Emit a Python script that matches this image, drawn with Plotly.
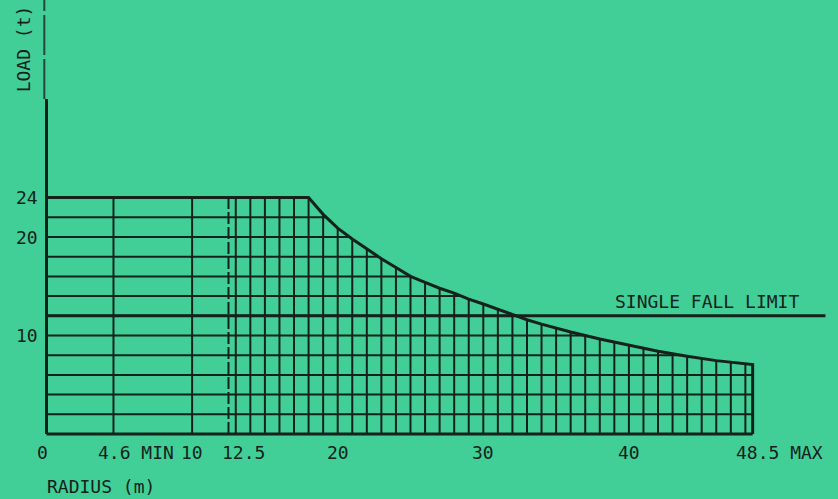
import plotly.graph_objects as go

# ---- data ----
radius_curve = [0, 18, 19, 20, 21, 22, 23, 24, 25, 26, 27, 28, 29, 30, 31, 32, 33, 34, 35, 36, 38, 40, 42, 44, 46, 48.5]
load_curve = [24, 24, 22.3, 20.9, 19.8, 18.8, 17.8, 16.9, 16.0, 15.4, 14.8, 14.3, 13.7, 13.2, 12.65, 12.1, 11.6, 11.15, 10.75, 10.35, 9.65, 9.0, 8.4, 7.9, 7.45, 7.05]
single_fall_limit = 12
single_fall_end = 53.5
min_radius = 4.6
max_radius = 48.5
dashed_radius = 12.5
grid_radii = [4.6, 10] + list(range(13, 49))
grid_loads = list(range(2, 24, 2))
x_tick_vals = [0, 4.6, 10, 12.5, 20, 30, 40, 48.5]
x_tick_text = ["0", "4.6 MIN", "10", "12.5", "20", "30", "40", "48.5 MAX"]
y_tick_vals = [24, 20, 10]
y_tick_text = ["24", "20", "10"]
y_top = 44.5

BG = "#41cf97"
INK = "#15221c"
FONT = "DejaVu Sans Mono"

fig = go.Figure()

# grid lines (full), later masked above the curve
gx, gy = [], []
for r in grid_radii:
    gx += [r, r, None]
    gy += [0, 24, None]
for h in grid_loads:
    gx += [0, max_radius, None]
    gy += [h, h, None]
fig.add_trace(go.Scatter(x=gx, y=gy, mode="lines", line=dict(color=INK, width=2), hoverinfo="skip"))

# dashed line at 12.5
fig.add_trace(go.Scatter(x=[dashed_radius, dashed_radius], y=[0, 24], mode="lines",
                         line=dict(color=INK, width=2, dash="12px,3px"), hoverinfo="skip"))

# mask above the curve
mx = [r for r in radius_curve if r >= 18]
my = [l for r, l in zip(radius_curve, load_curve) if r >= 18]
mx = mx + [max_radius + 0.3, max_radius + 0.3, 18]
my = my + [my[-1], 25, 25]
fig.add_trace(go.Scatter(x=mx, y=my, mode="lines", fill="toself", fillcolor=BG,
                         line=dict(width=0, color=BG), hoverinfo="skip"))

# capacity curve and right edge
fig.add_trace(go.Scatter(x=radius_curve + [max_radius], y=load_curve + [0], mode="lines",
                         line=dict(color=INK, width=3), hoverinfo="skip"))

# axes
fig.add_trace(go.Scatter(x=[0, max_radius], y=[0, 0], mode="lines",
                         line=dict(color=INK, width=3), hoverinfo="skip"))
fig.add_trace(go.Scatter(x=[0, 0], y=[0, 34], mode="lines",
                         line=dict(color=INK, width=3), hoverinfo="skip"))
fig.add_trace(go.Scatter(x=[-0.15, -0.15], y=[34, y_top], mode="lines",
                         line=dict(color="#24483a", width=2, dash="40px,4px"), hoverinfo="skip"))

# single fall limit
fig.add_trace(go.Scatter(x=[0, single_fall_end], y=[single_fall_limit, single_fall_limit], mode="lines",
                         line=dict(color=INK, width=3), hoverinfo="skip"))

font = dict(family=FONT, size=18, color=INK)
ann = []
# x tick labels
for v, t in zip(x_tick_vals, x_tick_text):
    if t == "4.6 MIN":
        ann.append(dict(x=v, y=0, text=t, xanchor="left", yanchor="middle", xshift=-17, yshift=-18))
    elif t == "48.5 MAX":
        ann.append(dict(x=v, y=0, text=t, xanchor="left", yanchor="middle", xshift=-19, yshift=-18))
    elif t == "12.5":
        ann.append(dict(x=v, y=0, text=t, xanchor="left", yanchor="middle", xshift=-9, yshift=-18))
    elif t == "0":
        ann.append(dict(x=v, y=0, text=t, xanchor="center", yanchor="middle", xshift=-4, yshift=-18))
    else:
        ann.append(dict(x=v, y=0, text=t, xanchor="center", yanchor="middle", yshift=-18))
# y tick labels
for v, t in zip(y_tick_vals, y_tick_text):
    ann.append(dict(x=0, y=v, text=t, xanchor="right", yanchor="middle", xshift=-7))
# titles
ann.append(dict(x=0, y=0, text="RADIUS (m)", xanchor="left", yanchor="middle", xshift=-2, yshift=-52))
ann.append(dict(x=0, y=39.1, text="LOAD (t)", textangle=-90, xanchor="center", yanchor="middle", xshift=-23))
ann.append(dict(x=38.9, y=single_fall_limit, text="SINGLE FALL LIMIT", xanchor="left", yanchor="middle", yshift=14))
for a in ann:
    a.update(xref="x", yref="y", showarrow=False, font=font)

fig.update_layout(
    width=838, height=499,
    margin=dict(l=0, r=0, t=0, b=0),
    paper_bgcolor=BG, plot_bgcolor=BG,
    showlegend=False,
    xaxis=dict(range=[-46.5 / 14.56, (838 - 46.5) / 14.56], visible=False, fixedrange=True),
    yaxis=dict(range=[-(499 - 434) / 9.85, 434 / 9.85], visible=False, fixedrange=True),
    annotations=ann,
)

fig.write_html(
    "out.html",
    config={"displayModeBar": False},
    post_script="document.body.style.margin='0';document.body.style.background='" + BG + "';",
)
